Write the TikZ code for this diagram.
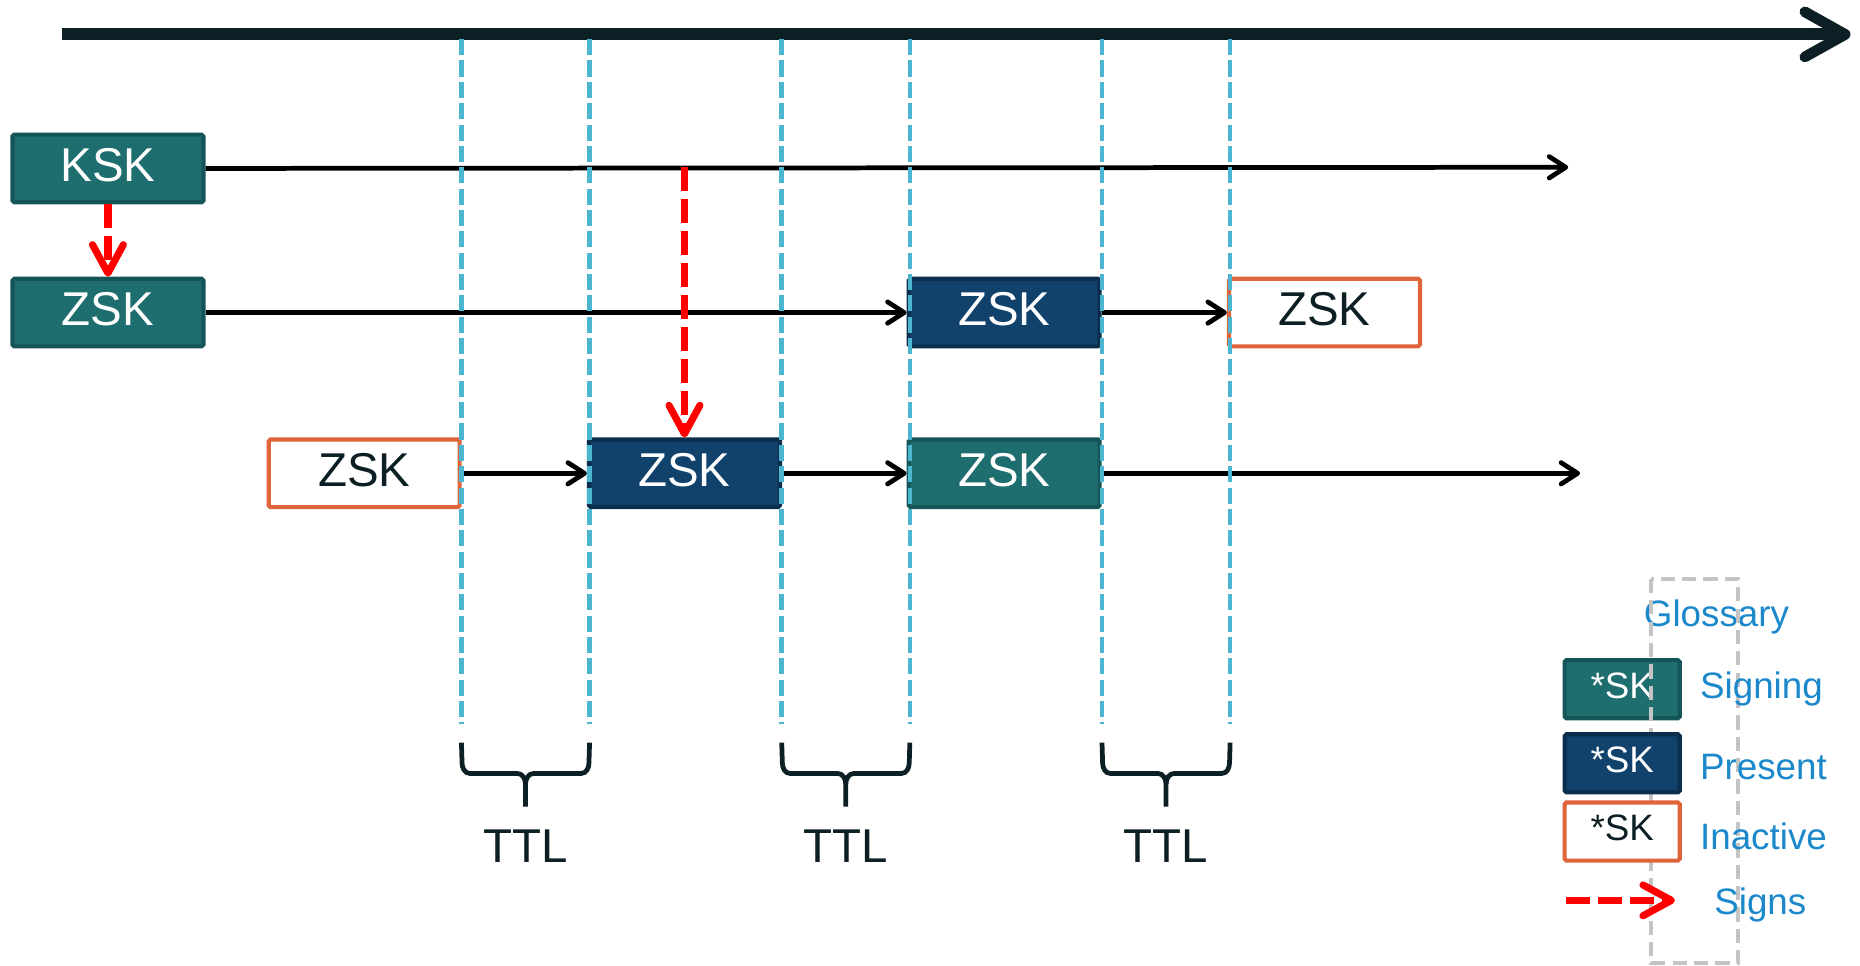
\documentclass[tikz,border=0pt]{standalone}
\usepackage{fontspec}
\setmainfont{Liberation Sans}
\usetikzlibrary{arrows.meta}
\definecolor{signfill}{HTML}{1E6E70}
\definecolor{signedge}{HTML}{165557}
\definecolor{presfill}{HTML}{10426B}
\definecolor{presedge}{HTML}{0B2E4D}
\definecolor{inactedge}{HTML}{E0643A}
\definecolor{ttlcyan}{HTML}{4CB6D1}
\definecolor{darkink}{HTML}{0C1F25}
\definecolor{glossblue}{HTML}{1B88CB}
\definecolor{glossgray}{HTML}{C4C4C4}
\begin{document}
\begin{tikzpicture}[x=1pt,y=-1pt,
  keybox/.style={minimum width=161pt,minimum height=57pt,line width=3.5pt,rounded corners=1.5pt,inner sep=0pt,text depth=6pt,font=\fontsize{40}{44}\selectfont},
  signbox/.style={keybox,fill=signfill,draw=signedge,text=white},
  presbox/.style={keybox,fill=presfill,draw=presedge,text=white},
  inactbox/.style={keybox,fill=white,draw=inactedge,text=darkink},
  legbox/.style={minimum width=97pt,minimum height=49pt,font=\fontsize{31}{34}\selectfont},
  conn/.style={line width=4pt,black,-{Straight Barb[length=14pt,width=18pt,line width=4pt,round]}},
  signs/.style={red,line width=6.5pt,dash pattern=on 20pt off 7pt,-{Straight Barb[length=24pt,width=26pt,line width=6pt,round]}},
  timeline/.style={darkink,line width=10pt,-{Straight Barb[length=34pt,width=38pt,line width=9pt,round]}},
  ttlline/.style={ttlcyan,line width=3.8pt,dash pattern=on 13.5pt off 4.5pt},
  brace/.style={darkink,line width=4pt},
  ttllabel/.style={text=darkink,font=\fontsize{40}{44}\selectfont,inner sep=0pt},
  glosstext/.style={text=glossblue,font=\fontsize{31}{34}\selectfont,inner sep=0pt,yshift=-3pt},
  glossframe/.style={glossgray,line width=3pt,dash pattern=on 12pt off 6pt}
]
\useasboundingbox (0,0) rectangle (1568,814);

% time axis
\coordinate (t0) at (52,29);
\coordinate (t1) at (1560,29);
\draw[timeline] (t0) -- (t1);

% key boxes
\node[signbox] (ksk) at (91,142) {KSK};
\node[signbox] (zskA) at (91,263.5) {ZSK};
\node[presbox] (zskB) at (846.5,263.5) {ZSK};
\node[inactbox] (zskC) at (1116.5,263.5) {ZSK};
\node[inactbox] (zskD) at (307,399) {ZSK};
\node[presbox] (zskE) at (577,399) {ZSK};
\node[signbox] (zskF) at (846.5,399) {ZSK};

% connectors
\coordinate (kskEnd) at (1322,141);
\coordinate (rowEnd) at (1332,399);
\draw[conn] (ksk.east) -- (kskEnd);
\draw[conn] (zskA.east) -- (zskB.west);
\draw[conn] (zskB.east) -- (zskC.west);
\draw[conn] (zskD.east) -- (zskE.west);
\draw[conn] (zskE.east) -- (zskF.west);
\draw[conn] (zskF.east) -- (rowEnd);

% signs arrows
\coordinate (kskTap) at (577,141);
\draw[signs] (ksk.south) -- (zskA.north);
\draw[signs] (kskTap) -- (zskE.north);

% TTL dashed lines
\foreach \x/\n in {389/a,497/b,659/c,767/d,929/e,1037/f}{
  \coordinate (top\n) at (\x,33);
  \coordinate (bot\n) at (\x,610);
  \draw[ttlline] (top\n) -- (bot\n);
}

% braces
\foreach \xl/\xr/\n in {389/497/1,659/767/2,929/1037/3}{
  \pgfmathsetmacro{\xm}{(\xl+\xr)/2}
  \draw[brace] (\xl,626) -- (\xl+0.5,643) to[out=-90,in=180] (\xl+7,652) -- (\xm-7,652) to[out=0,in=90] (\xm,661) -- (\xm,680);
  \draw[brace] (\xr,626) -- (\xr-0.5,643) to[out=-90,in=0] (\xr-7,652) -- (\xm+7,652) to[out=180,in=90] (\xm,661);
  \node[ttllabel] (ttl\n) at (\xm,713) {TTL};
}

% glossary
\node[glosstext] (gtitle) at (1447,517) {Glossary};
\node[signbox,legbox] (lsign) at (1367.5,581) {*SK};
\coordinate (gf0) at (1392,488);
\coordinate (gf1) at (1465,812);
\draw[glossframe] (gf0) rectangle (gf1);
\node[presbox,legbox] (lpres) at (1367.5,643.5) {*SK};
\node[inactbox,legbox] (linact) at (1367.5,701) {*SK};
\node[glosstext,anchor=west] (tsign) at (1433,578) {Signing};
\node[glosstext,anchor=west] (tpres) at (1433,644) {Present};
\node[glosstext,anchor=west] (tinact) at (1433,702) {Inactive};
\coordinate (ls0) at (1320,759);
\coordinate (ls1) at (1412,759);
\draw[signs] (ls0) -- (ls1);
\node[glosstext,anchor=west] (tsigns) at (1445,760) {Signs};
\end{tikzpicture}
\end{document}
